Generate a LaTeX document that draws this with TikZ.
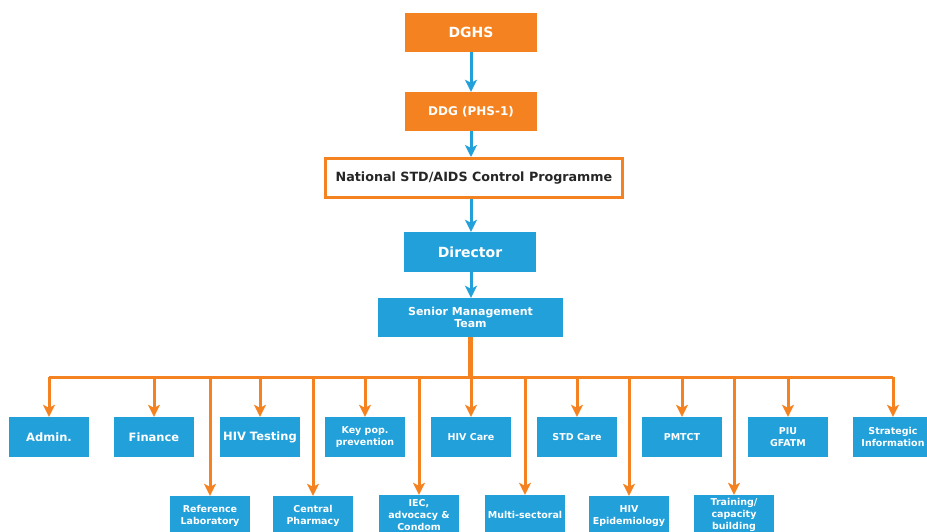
\documentclass[tikz,border=0pt]{standalone}
\usepackage{fontspec}
\setmainfont{DejaVu Sans}
\usetikzlibrary{arrows.meta}
\definecolor{org}{RGB}{245,130,32}
\definecolor{blu}{RGB}{34,160,218}
\tikzset{
  obox/.style={fill=org, text=white, font=\bfseries, inner sep=0pt, align=center},
  wbox/.style={draw=org, line width=3pt, fill=white, text={black!85}, font=\bfseries, inner sep=0pt, align=center},
  bbox/.style={fill=blu, text=white, font=\bfseries, inner sep=0pt, align=center},
  unit/.style={minimum width=80pt, minimum height=40pt},
  barrow/.style={draw=blu, line width=3pt, -{Stealth[length=12pt,width=12pt,inset=3pt]}},
  oarrow/.style={draw=org, line width=3pt, -{Stealth[length=12pt,width=12pt,inset=3pt]}},
  oline/.style={draw=org, line width=3pt},
  small/.style={font=\bfseries\fontsize{9.5}{12}\selectfont},
  mid/.style={font=\bfseries\fontsize{11.5}{13}\selectfont},
}
\begin{document}
\begin{tikzpicture}[x=1pt,y=-1pt]
\useasboundingbox (0,0) rectangle (927,531);
\begin{scope}
\clip (0,0) rectangle (927,531);
\node[obox, minimum width=132pt, minimum height=39pt, font=\bfseries\fontsize{14}{16}\selectfont] (dghs) at (471,32.5) {DGHS};
\node[obox, minimum width=132pt, minimum height=39pt, font=\bfseries\fontsize{12}{14}\selectfont] (ddg) at (471,111.5) {DDG (PHS-1)};
\node[wbox, minimum width=297pt, minimum height=39pt, font=\bfseries\fontsize{12.7}{14}\selectfont] (nsacp) at (474,178) {National STD/AIDS Control Programme};
\node[bbox, minimum width=132pt, minimum height=40pt, font=\bfseries\fontsize{14}{16}\selectfont] (dir) at (470,252) {Director};
\node[bbox, minimum width=185pt, minimum height=39pt, font=\bfseries\fontsize{11}{12.5}\selectfont] (smt) at (470.5,317.5) {Senior Management\\Team};

\node[bbox, unit, mid] (admin) at (49,437) {Admin.};
\node[bbox, unit, mid] (fin) at (154,437) {Finance};
\node[bbox, unit, mid] (hivt) at (260,437) {HIV Testing};
\node[bbox, unit, small] (key) at (365,437) {Key pop.\\prevention};
\node[bbox, unit, small] (hivc) at (471,437) {HIV Care};
\node[bbox, unit, small] (std) at (577,437) {STD Care};
\node[bbox, unit, small] (pmtct) at (682,437) {PMTCT};
\node[bbox, unit, small] (piu) at (788,437) {PIU\\GFATM};
\node[bbox, unit, small] (strat) at (893,437) {Strategic\\Information};

\node[bbox, unit, small] (ref) at (210,516) {Reference\\Laboratory};
\node[bbox, unit, small] (cph) at (313,516) {Central\\Pharmacy};
\node[bbox, unit, small] (iec) at (419,515) {IEC,\\advocacy \&\\Condom};
\node[bbox, unit, small] (multi) at (525,515) {Multi-sectoral};
\node[bbox, unit, small] (epi) at (629,516) {HIV\\Epidemiology};
\node[bbox, unit, small] (train) at (734,515) {Training/\\capacity\\building};

\draw[barrow] (dghs.south) -- (ddg.north);
\draw[barrow] (ddg.south) -- (ddg.south |- nsacp.north);
\draw[barrow] (ddg.south |- nsacp.south) -- (ddg.south |- dir.north);
\draw[barrow] (ddg.south |- dir.south) -- (ddg.south |- smt.north);

\coordinate (bus) at (470.5,377);
\draw[draw=org, line width=4.5pt] (smt.south) -- (bus);
\draw[oline] (bus -| admin.north) -- (bus -| strat.north);
\foreach \n in {admin,fin,hivt,key,hivc,std,pmtct,piu,strat,ref,cph,iec,multi,epi,train}
  \draw[oarrow] (bus -| \n.north) -- (\n.north);
\end{scope}
\end{tikzpicture}
\end{document}
